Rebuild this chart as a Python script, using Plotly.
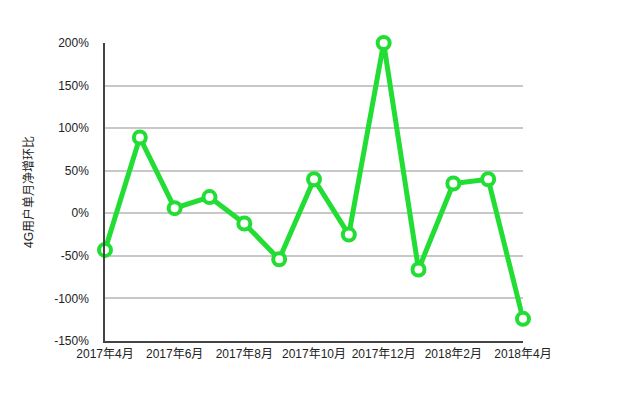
import plotly.graph_objects as go

months = ["2017年4月", "2017年5月", "2017年6月", "2017年7月", "2017年8月", "2017年9月",
          "2017年10月", "2017年11月", "2017年12月", "2018年1月", "2018年2月", "2018年3月", "2018年4月"]
values = [-43, 89, 6, 19, -12, -54, 40, -25, 200, -66, 35, 40, -124]
tick_idx = [0, 2, 4, 6, 8, 10, 12]
y_ticks = [-150, -100, -50, 0, 50, 100, 150, 200]
y_text = [f"{v}%" for v in y_ticks]

x = list(range(len(months)))

fig = go.Figure()
fig.add_trace(go.Scatter(
    x=x, y=values, mode="lines+markers",
    line=dict(color="#22dd33", width=5),
    marker=dict(symbol="circle", size=12, color="white",
                line=dict(color="#22dd33", width=4)),
    cliponaxis=False, hoverinfo="skip", showlegend=False,
))

fnt = "Liberation Sans, Noto Sans CJK SC, sans-serif"
fig.update_layout(
    width=640, height=396,
    margin=dict(l=105, r=117, t=43, b=55),
    paper_bgcolor="white", plot_bgcolor="white",
    font=dict(family=fnt, size=12, color="#222"),
)
fig.update_xaxes(
    range=[0, 12], tickvals=tick_idx, ticktext=[months[i] for i in tick_idx],
    showgrid=False, showline=True, linecolor="#444", linewidth=1.5,
    ticks="", ticklabelstandoff=1, zeroline=False,
    tickfont=dict(family=fnt, size=12, color="#222"),
)
fig.update_yaxes(
    range=[-150, 200], tickvals=y_ticks, ticktext=y_text,
    showgrid=True, gridcolor="#c8c8c8", gridwidth=1.5,
    showline=True, linecolor="#444", linewidth=1.5, zeroline=False,
    ticks="", ticklabelstandoff=12,
    tickfont=dict(family=fnt, size=12, color="#222"),
    title=dict(text="4G用户单月净增环比", font=dict(family=fnt, size=12, color="#222"), standoff=18),
)
fig.write_html("out.html")
